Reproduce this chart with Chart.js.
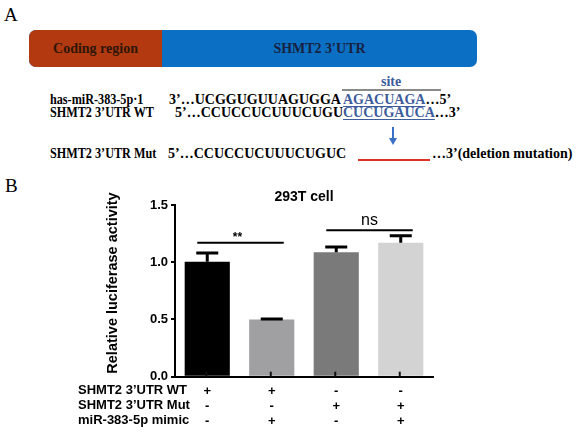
<!DOCTYPE html>
<html>
<head>
<meta charset="utf-8">
<script src="https://cdn.jsdelivr.net/npm/chart.js@4.4.1/dist/chart.umd.min.js"></script>
<style>
body{margin:0;width:578px;height:440px;background:#fff;position:relative;overflow:hidden;
  font-family:"Liberation Serif","Times New Roman",serif;}
.t{position:absolute;white-space:nowrap;font-weight:bold;font-size:14px;line-height:14px;color:#000;}
.lab{transform:scaleX(0.87);transform-origin:0 0;}
.big{position:absolute;font-size:19px;line-height:19px;color:#000;}
.blue{color:#3c5c9c;text-decoration:underline;text-decoration-thickness:1px;text-underline-offset:2px;}
#utr{position:absolute;left:29px;top:30px;width:448px;height:37px;background:#0b70c4;border-radius:7px;}
#coding{position:absolute;left:0;top:0;width:133px;height:37px;background:#b33a10;border-radius:7px 0 0 7px;}
#wrap{position:absolute;left:0;top:170px;width:578px;height:270px;}
</style>
</head>
<body>
<div class="big" style="left:4px;top:5px;">A</div>
<div id="utr"><div id="coding"></div></div>
<div class="t" style="left:29px;top:42px;width:133px;text-align:center;color:#2e1608;">Coding region</div>
<div class="t" style="left:162px;top:42px;width:315px;text-align:center;color:#18213f;">SHMT2 3′UTR</div>

<div class="t blue" style="left:381px;top:75px;text-decoration:none;">site</div>
<div style="position:absolute;left:342px;top:89px;width:99px;height:2px;background:#8a8a8a;"></div>

<div class="t lab" style="left:50px;top:93px;">has-miR-383-5p·1</div>
<div class="t" style="left:169px;top:93px;">3’…UCGGUGUUAGUGGA</div>
<div class="t" style="left:343px;top:93px;"><span class="blue">AGACUAGA</span>…5’</div>

<div class="t lab" style="left:50px;top:106px;">SHMT2 3’UTR WT</div>
<div class="t" style="left:175px;top:106px;">5’…CCUCCUCUUUCUGU</div>
<div class="t" style="left:343px;top:106px;"><span class="blue">CUCUGAUCA</span>…3’</div>

<div style="position:absolute;left:392px;top:127px;width:2px;height:12px;background:#3a6fc8;"></div>
<div style="position:absolute;left:389px;top:138px;width:0;height:0;border-left:4px solid transparent;border-right:4px solid transparent;border-top:7px solid #3a6fc8;"></div>

<div class="t lab" style="left:50px;top:147px;">SHMT2 3’UTR Mut</div>
<div class="t" style="left:168px;top:147px;">5’…CCUCCUCUUUCUGUC</div>
<div style="position:absolute;left:358px;top:159px;width:72px;height:2px;background:#e0302a;"></div>
<div class="t" style="left:432px;top:147px;">…3’(deletion mutation)</div>

<div class="big" style="left:5px;top:176px;">B</div>

<div id="wrap"><canvas id="myChart" width="578" height="270"></canvas></div>

<script>
'use strict';

// データ
var groups = ["WT", "WT + mimic", "Mut", "Mut + mimic"];
var activity = [1.005, 0.50, 1.087, 1.17];
var sem = [0.075, 0.005, 0.045, 0.062];
var barColors = ["#000000", "#a0a0a3", "#7a7a7a", "#d3d3d3"];
var rowNames = ["SHMT2 3’UTR WT", "SHMT2 3’UTR Mut", "miR-383-5p mimic"];
var wtRow = ["+", "+", "-", "-"];
var mutRow = ["-", "-", "+", "+"];
var mimicRow = ["-", "+", "-", "+"];
var yMax = 1.5;
var yStep = 0.5;
var sigFrom = [0, 2];
var sigTo = [1, 3];
var sigLevel = [1.17, 1.28];
var sigText = ["**", "ns"];

var sansFont = "'Liberation Sans', Arial, Helvetica, sans-serif";

var xLabels = groups.map(function (g, i) {
  return [wtRow[i], mutRow[i], mimicRow[i]];
});

var extrasPlugin = {
  id: 'extras',
  afterDatasetsDraw: function (chart) {
    var ctx = chart.ctx;
    var x = chart.scales.x;
    var y = chart.scales.y;
    ctx.save();
    ctx.strokeStyle = '#000';
    ctx.lineWidth = 3;
    activity.forEach(function (v, i) {
      var cx = x.getPixelForValue(i);
      var top = y.getPixelForValue(v + sem[i]);
      ctx.beginPath();
      ctx.moveTo(cx, y.getPixelForValue(v));
      ctx.lineTo(cx, top);
      ctx.moveTo(cx - 11, top);
      ctx.lineTo(cx + 11, top);
      ctx.stroke();
    });
    // small ticks inside bars
    ctx.lineWidth = 2;
    ctx.strokeStyle = '#111';
    groups.forEach(function (g, i) {
      var cx = x.getPixelForValue(i) - 1;
      ctx.beginPath();
      ctx.moveTo(cx, y.bottom);
      ctx.lineTo(cx, y.bottom - 5);
      ctx.stroke();
    });
    ctx.restore();
  },
  afterDraw: function (chart) {
    var ctx = chart.ctx;
    var x = chart.scales.x;
    var y = chart.scales.y;
    var area = chart.chartArea;
    ctx.save();
    ctx.fillStyle = '#000';
    ctx.strokeStyle = '#000';

    // title
    ctx.font = 'bold 14px ' + sansFont;
    ctx.textAlign = 'center';
    ctx.textBaseline = 'middle';
    ctx.fillText('293T cell', (area.left + area.right) / 2, 27);

    // y axis title
    ctx.save();
    ctx.translate(113, 113);
    ctx.rotate(-Math.PI / 2);
    ctx.font = 'bold 14.5px ' + sansFont;
    ctx.fillText('Relative luciferase activity', 0, 0);
    ctx.restore();

    // significance
    ctx.lineWidth = 2;
    sigText.forEach(function (t, k) {
      var x1 = x.getPixelForValue(sigFrom[k]) - 10;
      var x2 = x.getPixelForValue(sigTo[k]) + 12;
      var ly = y.getPixelForValue(sigLevel[k]);
      ctx.beginPath();
      ctx.moveTo(x1, ly);
      ctx.lineTo(x2, ly);
      ctx.stroke();
      ctx.textBaseline = 'alphabetic';
      if (t === '**') {
        ctx.font = 'bold 12px ' + sansFont;
        ctx.fillText(t, (x1 + x2) / 2 - 3, ly - 2);
      } else {
        ctx.font = '16px ' + sansFont;
        ctx.fillText(t, (x1 + x2) / 2, ly - 5);
      }
    });

    // row names of the table
    ctx.font = 'bold 13px ' + sansFont;
    ctx.textAlign = 'left';
    ctx.textBaseline = 'middle';
    rowNames.forEach(function (r, k) {
      ctx.fillText(r, 78, 220 + k * 15);
    });
    ctx.restore();
  }
};

var ctx = document.getElementById("myChart");
var myChart = new Chart(ctx, {
  type: 'bar',
  data: {
    labels: xLabels,
    datasets: [{
      data: activity,
      backgroundColor: barColors,
      borderWidth: 0,
      barPercentage: 0.7,
      categoryPercentage: 1.0
    }]
  },
  plugins: [extrasPlugin],
  options: {
    responsive: false,
    animation: false,
    devicePixelRatio: 1,
    layout: { padding: { left: 0, top: 35, right: 145, bottom: 0 } },
    plugins: {
      legend: { display: false },
      title: { display: false },
      tooltip: { enabled: false }
    },
    scales: {
      x: {
        grid: { display: false },
        border: { display: true, color: '#000', width: 2 },
        ticks: {
          color: '#000',
          padding: -1,
          font: { family: sansFont, size: 13, weight: 'bold', lineHeight: '15px' }
        },
        afterFit: function (s) { s.height = 63.3; }
      },
      y: {
        min: 0,
        max: yMax,
        grid: { display: true, drawOnChartArea: false, drawTicks: true, tickLength: 4, color: '#000', lineWidth: 2 },
        border: { display: true, color: '#000', width: 2 },
        ticks: {
          stepSize: yStep,
          color: '#000',
          padding: 3,
          font: { family: sansFont, size: 13, weight: 'bold' },
          callback: function (v) { return v.toFixed(1); }
        },
        afterFit: function (s) { s.width = 175; }
      }
    }
  }
});
</script>
</body>
</html>
